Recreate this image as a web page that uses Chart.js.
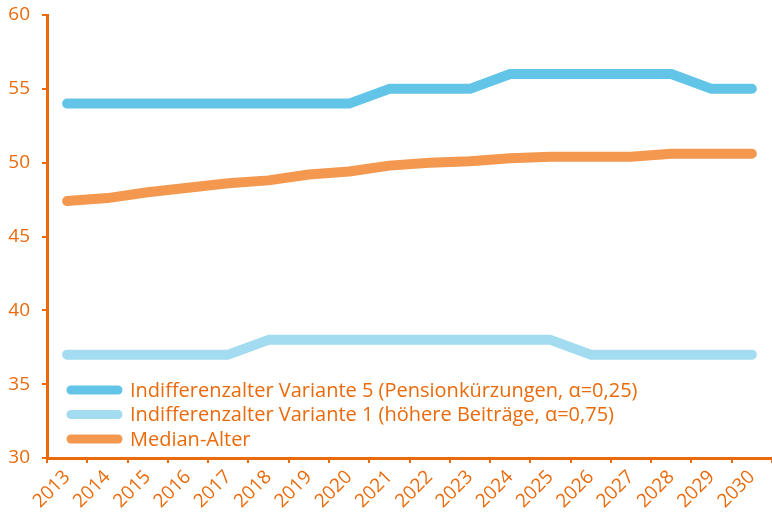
<!DOCTYPE html>
<html lang="de">
<head>
    <meta charset="UTF-8">
    <title>Indifferenzalter und Median-Alter</title>
    <script src="https://cdn.jsdelivr.net/npm/chart.js"></script>
    <style>
        html, body {
            margin: 0;
            padding: 0;
            background: #ffffff;
            overflow: hidden;
        }
    </style>
</head>
<body>
    <canvas id="ageChart" width="772" height="518"></canvas>

    <script>
        const years = ['2013', '2014', '2015', '2016', '2017', '2018', '2019', '2020', '2021',
                       '2022', '2023', '2024', '2025', '2026', '2027', '2028', '2029', '2030'];
        const variante5 = [54, 54, 54, 54, 54, 54, 54, 54, 55, 55, 55, 56, 56, 56, 56, 56, 55, 55];
        const variante1 = [37, 37, 37, 37, 37, 38, 38, 38, 38, 38, 38, 38, 38, 37, 37, 37, 37, 37];
        const medianAlter = [47.4, 47.6, 48.0, 48.3, 48.6, 48.8, 49.2, 49.4, 49.8,
                             50.0, 50.1, 50.3, 50.4, 50.4, 50.4, 50.6, 50.6, 50.6];
        const yTicks = [30, 35, 40, 45, 50, 55, 60];

        const orange = '#ea6a0c';
        const fontFamily = '"Open Sans", Lato, sans-serif';

        // legend drawn inside the plot, bottom left
        const innerLegend = {
            id: 'innerLegend',
            afterDraw(chart) {
                const ctx = chart.ctx;
                const area = chart.chartArea;
                const x0 = area.left + 20;
                const rowH = 24.5;
                let y = area.bottom - 19 - rowH * (chart.data.datasets.length - 1);
                ctx.save();
                ctx.font = '20px ' + fontFamily;
                ctx.textBaseline = 'middle';
                ctx.lineCap = 'round';
                chart.data.datasets.forEach(ds => {
                    ctx.strokeStyle = ds.borderColor;
                    ctx.lineWidth = 9;
                    ctx.beginPath();
                    ctx.moveTo(x0 + 4, y);
                    ctx.lineTo(x0 + 51, y);
                    ctx.stroke();
                    ctx.fillStyle = orange;
                    ctx.fillText(ds.label, x0 + 63, y + 1);
                    y += rowH;
                });
                ctx.restore();
            }
        };

        const ctx = document.getElementById('ageChart').getContext('2d');
        new Chart(ctx, {
            type: 'line',
            data: {
                labels: years,
                datasets: [{
                    label: 'Indifferenzalter Variante 5 (Pensionkürzungen, α=0,25)',
                    data: variante5,
                    borderColor: '#62c5e8',
                    borderWidth: 10
                }, {
                    label: 'Indifferenzalter Variante 1 (höhere Beiträge, α=0,75)',
                    data: variante1,
                    borderColor: '#a3dcf0',
                    borderWidth: 10
                }, {
                    label: 'Median-Alter',
                    data: medianAlter,
                    borderColor: '#f3984e',
                    borderWidth: 10
                }]
            },
            options: {
                responsive: false,
                animation: false,
                layout: { padding: { top: 0, left: 2, right: 0, bottom: 0 } },
                elements: {
                    point: { radius: 0 },
                    line: { tension: 0, borderCapStyle: 'round', borderJoinStyle: 'round' }
                },
                plugins: {
                    legend: { display: false },
                    tooltip: { enabled: false }
                },
                scales: {
                    x: {
                        offset: true,
                        afterFit: axis => {
                            axis.height = 60;
                            axis.paddingLeft = 0;
                            axis.paddingRight = 0;
                            axis.paddingTop = 0;
                        },
                        border: { display: true, color: orange, width: 3 },
                        grid: {
                            offset: true,
                            drawOnChartArea: false,
                            drawTicks: true,
                            tickLength: 5,
                            color: orange,
                            lineWidth: 2
                        },
                        ticks: {
                            color: orange,
                            autoSkip: false,
                            minRotation: 45,
                            maxRotation: 45,
                            padding: 3,
                            font: { family: fontFamily, size: 19 }
                        }
                    },
                    y: {
                        min: yTicks[0],
                        max: yTicks[yTicks.length - 1],
                        afterBuildTicks: axis => {
                            axis.ticks = yTicks.map(v => ({ value: v }));
                        },
                        afterFit: axis => {
                            axis.width = 45;
                            axis.paddingTop = 15;
                            axis.paddingBottom = 0;
                        },
                        border: { display: true, color: orange, width: 3 },
                        grid: {
                            drawOnChartArea: false,
                            drawTicks: true,
                            tickLength: 5,
                            color: orange,
                            lineWidth: 2
                        },
                        ticks: {
                            color: orange,
                            padding: 12,
                            font: { family: fontFamily, size: 19 }
                        }
                    }
                }
            },
            plugins: [innerLegend]
        });
    </script>
</body>
</html>
